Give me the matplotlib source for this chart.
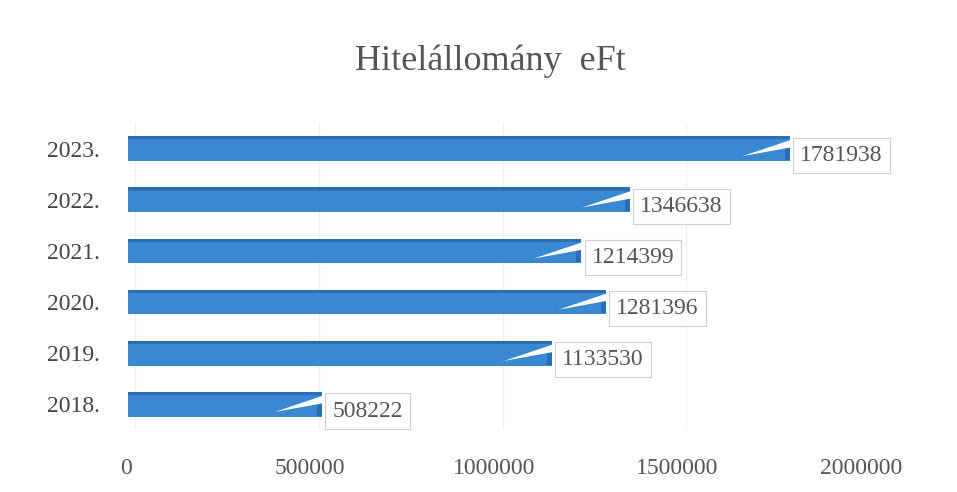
import matplotlib
matplotlib.use("Agg")
import matplotlib.pyplot as plt
from matplotlib.patches import Polygon
from matplotlib.transforms import ScaledTranslation

years = ["2018.", "2019.", "2020.", "2021.", "2022.", "2023."]
values = [508222, 1133530, 1281396, 1214399, 1346638, 1781938]
xticks = [0, 500000, 1000000, 1500000, 2000000]
title = "Hitelállomány  eFt"

plt.rcParams['font.family'] = ['Liberation Serif', 'DejaVu Serif']

fig = plt.figure(figsize=(9.57, 4.92), dpi=100)
ax = fig.add_axes([128/957, 1-430/492, (870-128)/957, (430-123)/492])

x0 = -20000
bar_c = "#3a88d2"
dark_c = "#2a6fb6"
ypos = list(range(len(years)))
h = 0.48
ax.barh(ypos, [v - x0 for v in values], left=x0, height=h, color=bar_c, zorder=2)
# darker top edge for 3D look
ax.barh([y + h/2 - 0.03 for y in ypos], [v - x0 for v in values], left=x0, height=0.06,
        color=dark_c, zorder=3)
# dark right face near the end
ax.barh([y - 0.08 for y in ypos], [14000]*len(values), left=[v - 14000 for v in values],
        height=h - 0.2, color=dark_c, zorder=3)

for y, v in zip(ypos, values):
    tri = Polygon([(v + 15000, y + 0.2), (v + 15000, y + 0.04), (v - 130000, y - 0.15)],
                  closed=True, facecolor="white", edgecolor="none", zorder=4)
    ax.add_patch(tri)
    ax.text(v + 28000, y - 0.13, f"{v}", fontsize=17, color="#555555", va="center", ha="left",
            zorder=5,
            bbox=dict(boxstyle="square,pad=0.3", facecolor="white", edgecolor="#d0d0d0", linewidth=0.8))

ax.set_xlim(x0, 2000000)
ax.set_ylim(-0.5, 5.5)
ax.set_xticks(xticks)
ax.set_xticklabels([str(t) for t in xticks], fontsize=17, color="#555555")
ax.set_yticks(ypos)
ax.set_yticklabels(years, fontsize=17, color="#444444")
ax.tick_params(length=0, pad=20, axis="y")
ax.tick_params(length=0, pad=20, axis="x")
off = ScaledTranslation(-9/100, 0, fig.dpi_scale_trans)
for lab in ax.get_xticklabels():
    lab.set_transform(lab.get_transform() + off)
for s in ax.spines.values():
    s.set_visible(False)
ax.grid(axis="x", color="#efefef", linewidth=0.8, zorder=0)
ax.set_axisbelow(True)

fig.text(490/957, 1-61/492, title, fontsize=26, color="#555555", ha="center", va="center")

fig.savefig("out.png", dpi=100)
